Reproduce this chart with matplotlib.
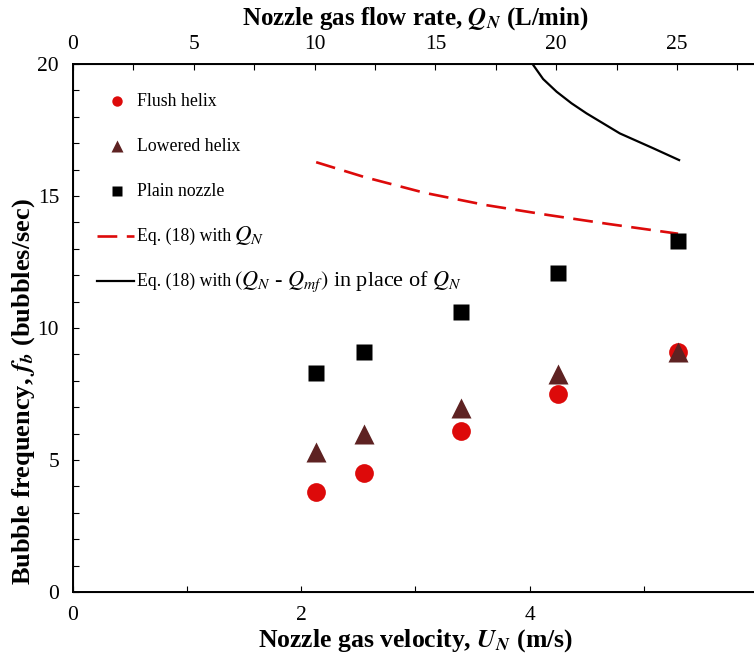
import matplotlib
matplotlib.use("Agg")
import matplotlib.pyplot as plt
from matplotlib.ticker import MultipleLocator

plt.rcParams["font.family"] = ["Liberation Serif", "DejaVu Serif"]
plt.rcParams["mathtext.fontset"] = "stix"

# nozzle gas velocity (m/s) for the measured points
U_N = [2.13, 2.55, 3.40, 4.25, 5.30]
flush_helix = [3.80, 4.50, 6.11, 7.50, 9.09]
lowered_helix = [5.30, 5.98, 6.98, 8.27, 9.08]
plain_nozzle = [8.30, 9.09, 10.61, 12.08, 13.30]

# Eq. (18) curves
eq18_U = [2.13, 2.55, 3.08, 3.61, 4.16, 4.69, 5.30]
eq18_f = [16.28, 15.72, 15.12, 14.66, 14.28, 13.94, 13.57]
eq18mf_U = [4.025, 4.118, 4.236, 4.367, 4.498, 4.790, 5.081, 5.309]
eq18mf_f = [20.0, 19.43, 18.95, 18.51, 18.13, 17.37, 16.81, 16.36]

U_MAX = 6.0
Q_MAX = 28.35  # top axis, L/min at U_MAX

RED = "#DD0A0A"
BROWN = "#5E2222"
DASH = (0, (7.5, 3.6))

fig = plt.figure(figsize=(7.54, 6.57), dpi=100)
ax = fig.add_axes([0.0968, 0.099, 0.9085, 0.8036])

ax.plot(eq18_U, eq18_f, color=RED, lw=1.9, ls=DASH, zorder=2)
ax.plot(eq18mf_U, eq18mf_f, color="black", lw=1.6, zorder=2)
ax.plot(U_N, flush_helix, "o", color=RED, ms=13.5, mec="none", zorder=3)
ax.plot(U_N, lowered_helix, "^", color=BROWN, ms=14, mec="none", zorder=4)
ax.plot(U_N, plain_nozzle, "s", color="black", ms=12, mec="none", zorder=3)

ax.set_xlim(0, U_MAX)
ax.set_ylim(0, 20)
ax.xaxis.set_major_locator(MultipleLocator(2))
ax.xaxis.set_minor_locator(MultipleLocator(1))
ax.yaxis.set_major_locator(MultipleLocator(5))
ax.yaxis.set_minor_locator(MultipleLocator(1))
ax.tick_params(which="both", direction="in", length=4, width=0.8, labelsize=15.5, pad=10)
ax.tick_params(axis="x", which="both", top=False)
for s in ax.spines.values():
    s.set_linewidth(1.4)

ax.set_xlabel(r"Nozzle gas velocity, $\mathbfit{U}_{\mathbfit{N}}$ (m/s)",
              fontsize=18.5, fontweight="bold", labelpad=2)
ax.set_ylabel(r"Bubble frequency, $\mathbfit{f}_{\mathbfit{b}}$ (bubbles/sec)",
              fontsize=19, fontweight="bold")
ax.yaxis.set_label_coords(-0.052, 0.38)

top = ax.twiny()
top.set_xlim(0, Q_MAX)
top.xaxis.set_major_locator(MultipleLocator(5))
top.xaxis.set_minor_locator(MultipleLocator(2.5))
top.tick_params(which="both", direction="in", length=4, width=0.8, labelsize=15.5, pad=7)
top.set_xlabel(r"Nozzle gas flow rate, $\mathbfit{Q}_{\mathbfit{N}}$ (L/min)",
               fontsize=18, fontweight="bold", labelpad=8)

# legend, drawn by hand so the math parts can be larger than the text
rows_y = [0.929, 0.844, 0.759, 0.674, 0.589]
key_x = 0.0642
text_x = 0.0934
tr = ax.transAxes
ax.plot([key_x], [rows_y[0]], "o", color=RED, ms=7.5, mec="none", transform=tr, clip_on=False)
ax.plot([key_x], [rows_y[1]], "^", color=BROWN, ms=8, mec="none", transform=tr, clip_on=False)
ax.plot([key_x], [rows_y[2]], "s", color="black", ms=6.8, mec="none", transform=tr, clip_on=False)
ax.plot([0.035, 0.089], [rows_y[3]] * 2, color=RED, lw=1.9, ls=DASH, transform=tr)
ax.plot([0.035, 0.089], [rows_y[4]] * 2, color="black", lw=1.6, transform=tr)

leg_fs = 12.8
for y, lbl in zip(rows_y[:3], ["Flush helix", "Lowered helix", "Plain nozzle"]):
    ax.text(text_x, y, lbl, transform=tr, fontsize=leg_fs, va="center")
for y, head, tail, fs in [(rows_y[3], "Eq. (18) with ", r"$Q_N$", 16.5),
                          (rows_y[4], "Eq. (18) with ", r"$(Q_N$ - $Q_{mf})$ in place of $Q_N$", 16)]:
    t = ax.text(text_x, y, head, transform=tr, fontsize=leg_fs, va="center")
    ax.annotate(tail, xy=(1, 0), xycoords=t, xytext=(-1.5, 2.8), textcoords="offset points",
                fontsize=fs, va="baseline")

fig.savefig("out.png", dpi=100)
